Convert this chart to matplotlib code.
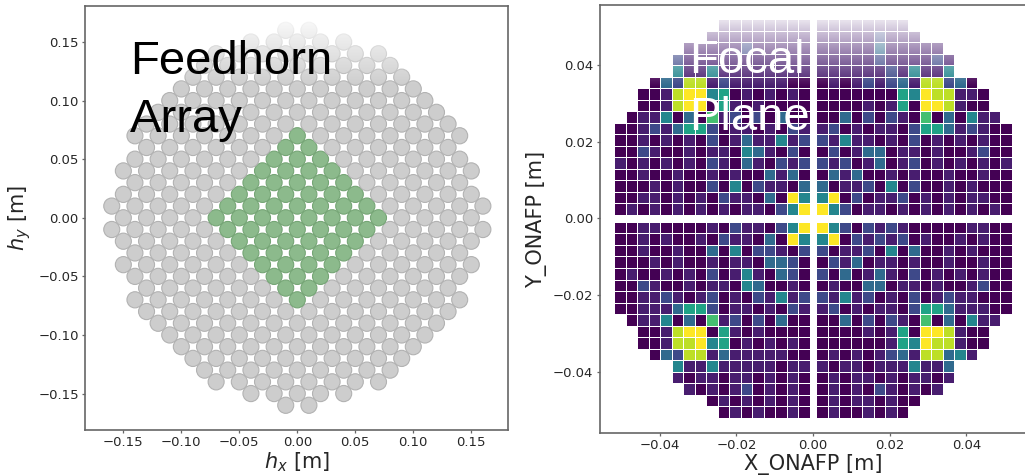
import numpy as np
import matplotlib.pyplot as plt
from matplotlib.patches import Circle

# feedhorn lattice: pitch, max |i| for each row |j| = 0..16, green diamond size
horn_pitch = 0.01
horn_radius = 0.0069
row_halfwidth = [15, 16, 15, 14, 15, 14, 13, 14, 13, 12, 11, 10, 9, 8, 7, 4, 1]
green_halfwidth = 7

# focal plane pixels (0 = dark .. 9 = yellow, '.' = no pixel)
# 34 rows from top to bottom, 17 columns left of the gap + 17 right of it
focal_pitch = 0.003
focal_gap = 0.0009
focal_levels = [0.0, 0.08, 0.22, 0.34, 0.46, 0.58, 0.7, 0.8, 0.9, 1.0]
focal_rows = [
    ".........11111111" + "11111111.........",
    "........111111111" + "111112111........",
    "......11111211111" + "11111311111......",
    ".....211111111111" + "111112111121.....",
    ".....411411111111" + "111111214114.....",
    "...03288121111100" + "01012123188230...",
    "..001899450101010" + "000000054988110..",
    "..001899051010000" + "000010150998100..",
    ".0114030612020300" + "0030202106030411.",
    "00121355201101021" + "12010110255312100",
    "00101010201311412" + "21411010201010100",
    "00210010110431020" + "02013301101001200",
    "10101010210310212" + "21201301201010101",
    "00100100101003130" + "03130010100100100",
    "00010100204021103" + "30112040200101000",
    "00110101021103094" + "49020112010101100",
    "01010101010110249" + "94201101010101010",
    "00110000102110249" + "94202121000001100",
    "00101001021103094" + "49021212010010100",
    "00100100304022102" + "20112040300101000",
    "00010100101103320" + "02130110100100100",
    "01001010201410320" + "20301310201010100",
    "00210010110430010" + "01003301101001200",
    "00112101201021412" + "21412010201211000",
    "00111355201101021" + "12010110255311100",
    ".0114030612020300" + "0030202106030411.",
    "..001899051010000" + "000010150998100..",
    "..001889450101010" + "000000154988100..",
    "...03288131111100" + "01010123188341...",
    ".....411411111011" + "101101114113.....",
    ".....101101101010" + "010110101101.....",
    "......10101201010" + "01010210101......",
    "........010101010" + "010110100........",
    ".........01010010" + "01001010.........",
]

tick_color = '#262626'
spine_color = '#666666'


def style_axes(ax):
    for s in ax.spines.values():
        s.set_color(spine_color)
        s.set_linewidth(1.2)
    ax.tick_params(length=2.5, width=0.9, pad=2, labelsize=9.5,
                   colors=spine_color, labelcolor=tick_color)


def add_fade(ax):
    # white wash over the top of the panel (as in the slide)
    f = np.linspace(0, 1, 300)
    alpha = np.clip((f - 0.81) / (0.965 - 0.81), 0, 1) * 0.88
    img = np.ones((300, 1, 4))
    img[:, 0, 3] = alpha
    ax.imshow(img, origin='lower', extent=(0, 1, 0, 1), transform=ax.transAxes,
              aspect='auto', zorder=2.2, interpolation='bilinear')


fig = plt.figure(figsize=(10.25, 4.75), dpi=100)

# ---- left: feedhorn array
ax1 = fig.add_axes([0.083, 0.095, 0.413, 0.893])
for jj in range(-16, 17):
    hw = row_halfwidth[abs(jj)]
    for ii in range(-hw, hw + 1):
        if (ii + jj) % 2 == 0:
            continue
        green = abs(ii) + abs(jj) <= green_halfwidth
        fc = '#8cba8c' if green else '#cdcdcd'
        ec = '#75a575' if green else '#b2b2b2'
        ax1.add_patch(Circle((ii * horn_pitch, jj * horn_pitch), horn_radius,
                             facecolor=fc, edgecolor=ec, linewidth=0.8, zorder=1))
add_fade(ax1)
ax1.set_xlim(-0.183, 0.182)
ax1.set_ylim(-0.181, 0.181)
ax1.set_xticks([-0.15, -0.10, -0.05, 0.00, 0.05, 0.10, 0.15])
ax1.set_yticks([-0.15, -0.10, -0.05, 0.00, 0.05, 0.10, 0.15])
ax1.set_xlabel('$h_x$ [m]', fontsize=15, color=tick_color, labelpad=1)
ax1.set_ylabel('$h_y$ [m]', fontsize=15, color=tick_color, labelpad=4)
style_axes(ax1)
ax1.text(0.106, 0.84, 'Feedhorn', transform=ax1.transAxes, fontsize=34,
         family='Liberation Sans', va='baseline', color='black', zorder=5)
ax1.text(0.106, 0.703, 'Array', transform=ax1.transAxes, fontsize=34,
         family='Liberation Sans', va='baseline', color='black', zorder=5)

# ---- right: focal plane
ax2 = fig.add_axes([0.585, 0.088, 0.416, 0.901])
Z = np.array([[np.nan if c == '.' else focal_levels[int(c)] for c in row]
              for row in focal_rows])
edges = focal_gap + focal_pitch * np.arange(18)
xe = {'l': -edges[::-1], 'r': edges}
ye = {'t': edges, 'b': -edges[::-1]}
quads = {
    ('l', 't'): Z[:17, :17][::-1],
    ('r', 't'): Z[:17, 17:][::-1],
    ('l', 'b'): Z[17:, :17][::-1],
    ('r', 'b'): Z[17:, 17:][::-1],
}
for (qx, qy), zq in quads.items():
    ax2.pcolormesh(xe[qx], ye[qy], np.ma.masked_invalid(zq), cmap='viridis',
                   vmin=0, vmax=1, edgecolors='white', linewidth=0.6, zorder=1)
add_fade(ax2)
ax2.set_xlim(-0.0557, 0.0556)
ax2.set_ylim(-0.0559, 0.0555)
ax2.set_xticks([-0.04, -0.02, 0.00, 0.02, 0.04])
ax2.set_yticks([-0.04, -0.02, 0.00, 0.02, 0.04])
ax2.set_xlabel('X_ONAFP [m]', fontsize=15, color=tick_color, labelpad=1)
ax2.set_ylabel('Y_ONAFP [m]', fontsize=15, color=tick_color, labelpad=4)
style_axes(ax2)
ax2.text(0.211, 0.841, 'Focal', transform=ax2.transAxes, fontsize=34,
         family='Liberation Sans', va='baseline', color='white', zorder=5)
ax2.text(0.211, 0.708, 'Plane', transform=ax2.transAxes, fontsize=34,
         family='Liberation Sans', va='baseline', color='white', zorder=5)

fig.savefig('out.png', dpi=100)
